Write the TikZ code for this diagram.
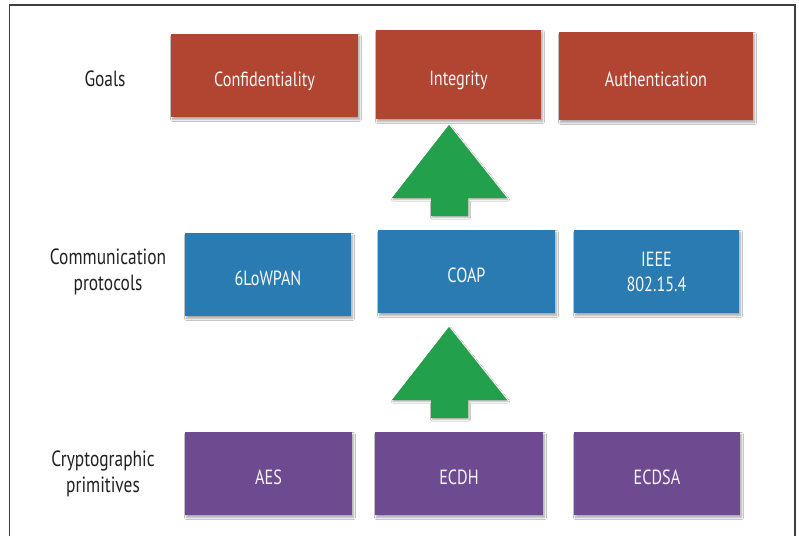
\documentclass[tikz,border=0pt]{standalone}
\usepackage{fontspec}
\setmainfont{PT Sans}[FakeStretch=0.79]
\usetikzlibrary{shadows.blur}

\definecolor{goalred}{HTML}{B24432}
\definecolor{protoblue}{HTML}{2A7BB1}
\definecolor{primpurple}{HTML}{6E4A91}
\definecolor{uparrow}{HTML}{23A04B}
\definecolor{labelgray}{HTML}{222222}

\tikzset{
  card/.style={minimum width=#1, inner sep=0pt, align=center,
    text=white!94!gray, font=\fontsize{20.5}{25}\selectfont,
    blur shadow={shadow xshift=1.5pt, shadow yshift=-2.5pt,
      shadow blur steps=6, shadow blur radius=2pt, shadow opacity=35}},
  oneline/.style={text height=21pt, text depth=0pt},
  goal/.style={card=#1, oneline, fill=goalred},
  proto/.style={card=#1, fill=protoblue},
  prim/.style={card=#1, oneline, fill=primpurple},
  rowlabel/.style={align=center, text=labelgray,
    font=\fontsize{22}{26}\selectfont},
  blockarrow/.style={fill=uparrow,
    blur shadow={shadow xshift=1pt, shadow yshift=-1.5pt,
      shadow blur steps=5, shadow blur radius=1.5pt, shadow opacity=30}},
  frame/.style={draw=black!75, line width=1.1pt}
}

\begin{document}
\begin{tikzpicture}[x=1pt, y=-1pt]
  \useasboundingbox (0,0) rectangle (799,536);
  \fill[white] (0,0) rectangle (799,536);

  % surrounding frame, open at the bottom
  \draw[frame] (9.5,536) -- (9.5,5) -- (795,5) -- (795,536);

  % row labels
  \node[rowlabel] (lgoals) at (105,79) {Goals};
  \node[rowlabel] (lproto) at (108,272) {Communication\\protocols};
  \node[rowlabel] (lprim)  at (103,474) {Cryptographic\\primitives};

  % goals
  \node[goal=187pt, minimum height=83pt] (conf) at (264.5,75.5) {Confidentiality};
  \node[goal=165pt, minimum height=89pt] (integ) at (458.5,74.5) {Integrity};
  \node[goal=194pt, minimum height=88pt] (auth) at (656,76) {Authentication};

  % communication protocols
  \node[proto=166pt, oneline, minimum height=83pt] (lowpan) at (268,274.5) {6LoWPAN};
  \node[proto=177pt, oneline, minimum height=83pt] (coap) at (466.5,271.5) {COAP};
  \node[proto=165pt, minimum height=83pt] (ieee) at (656.5,271.5) {IEEE\\802.15.4};

  % cryptographic primitives
  \node[prim=167pt, minimum height=83pt] (aes) at (268.5,473.5) {AES};
  \node[prim=168pt, minimum height=83pt] (ecdh) at (459,473.5) {ECDH};
  \node[prim=166pt, minimum height=83pt] (ecdsa) at (657,473.5) {ECDSA};

  % block arrows pointing upward between the rows
  \fill[blockarrow] (449,125) -- (507,198) -- (468,198) -- (468,216)
    -- (431,216) -- (431,198) -- (392,198) -- cycle;
  \fill[blockarrow] (449,327) -- (507,400) -- (468,400) -- (468,418)
    -- (431,418) -- (431,400) -- (392,400) -- cycle;
\end{tikzpicture}
\end{document}
